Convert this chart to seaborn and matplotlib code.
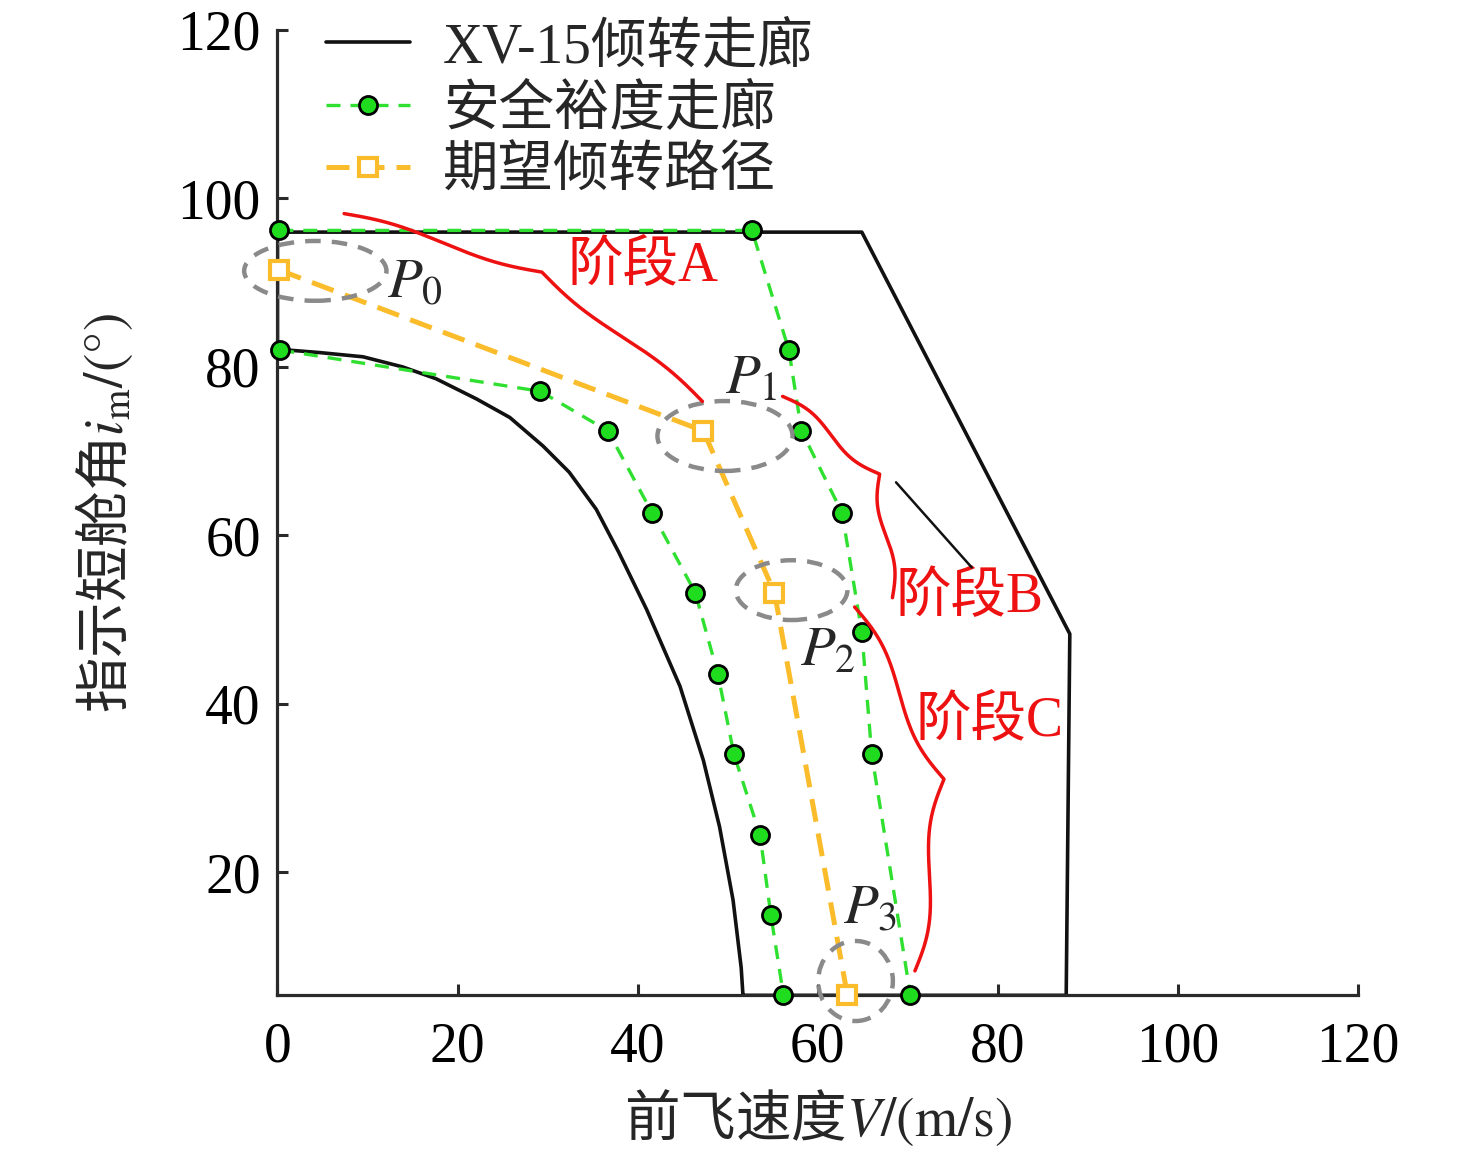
import matplotlib
matplotlib.use('Agg')
import numpy as np
import matplotlib.pyplot as plt
import seaborn as sns
from matplotlib.patches import Ellipse
from matplotlib.lines import Line2D

# ---------------------------
# Data
# ---------------------------
# XV-15 tilt corridor boundary (closed path)
xv15_v = [51.7, 51.5, 50.6, 49.1, 47.3, 44.7, 41.0, 37.9, 35.4, 32.4, 29.5, 25.8,
          22.1, 17.6, 13.9, 9.5, 4.7, 0.0, 0.0, 64.9, 88.0, 87.6, 51.7]
xv15_i = [5.4, 8.7, 16.7, 25.4, 33.3, 42.1, 51.2, 58.0, 63.1, 67.5, 70.6, 74.0,
          76.2, 78.6, 80.0, 81.2, 81.7, 82.1, 96.0, 96.0, 48.3, 5.4, 5.4]

# safety margin corridor
safe_left_v = [0.3, 29.2, 36.7, 41.6, 46.4, 48.9, 50.7, 53.6, 54.8, 56.2]
safe_left_i = [82.0, 77.1, 72.4, 62.7, 53.2, 43.6, 34.0, 24.4, 14.9, 5.4]
safe_right_v = [0.2, 52.7, 56.8, 58.2, 62.7, 64.9, 66.0, 70.3]
safe_right_i = [96.2, 96.2, 82.0, 72.4, 62.7, 48.5, 34.0, 5.4]

# desired tilt path P0..P3
path_v = [0.2, 47.3, 55.2, 63.3]
path_i = [91.5, 72.4, 53.2, 5.4]
path_names = ["0", "1", "2", "3"]

# ---------------------------
# Style
# ---------------------------
sns.set_style("ticks")
plt.rcParams['font.family'] = ['Liberation Serif', 'Noto Sans CJK SC']
plt.rcParams['mathtext.fontset'] = 'stix'
plt.rcParams['xtick.direction'] = 'in'
plt.rcParams['ytick.direction'] = 'in'

FS = 40
black = '#111111'
green_line = '#30e030'
green_face = '#1fdc1f'
orange = '#fbbc2c'
red = '#ee1111'
gray = '#8a8a8a'

fig = plt.figure(figsize=(14.76, 11.52), dpi=100)
ax = fig.add_axes([0.188, 0.136, 0.732, 0.838])

sns.lineplot(x=xv15_v, y=xv15_i, sort=False, estimator=None, ax=ax,
             color=black, linewidth=2.6, zorder=2)

safe_kw = dict(sort=False, estimator=None, ax=ax, color=green_line, linewidth=2.4,
               linestyle=(0, (4.2, 3)), marker='o', markersize=13,
               markerfacecolor=green_face, markeredgecolor='black',
               markeredgewidth=2.0, zorder=3, clip_on=False)
sns.lineplot(x=safe_left_v, y=safe_left_i, **safe_kw)
sns.lineplot(x=safe_right_v, y=safe_right_i, **safe_kw)

sns.lineplot(x=path_v, y=path_i, sort=False, estimator=None, ax=ax,
             color=orange, linewidth=3.6, linestyle=(0, (4.6, 2.4)),
             marker='s', markersize=12.5, markerfacecolor='white',
             markeredgecolor=orange, markeredgewidth=3.0, zorder=4, clip_on=False)

ax.set_xlim(0, 120)
ax.set_ylim(5.4, 120)
ax.set_xticks(np.arange(0, 121, 20))
ax.set_yticks(np.arange(20, 121, 20))
for s in ['top', 'right']:
    ax.spines[s].set_visible(False)
for s in ['left', 'bottom']:
    ax.spines[s].set_linewidth(2.3)
    ax.spines[s].set_color('#2a2a2a')
ax.tick_params(axis='both', length=8, width=2.2, color='#2a2a2a',
               labelsize=FS, labelcolor='black')
ax.tick_params(axis='x', pad=19)
ax.tick_params(axis='y', pad=12)

ax.set_xlabel("前飞速度$V\\mathrm{/(m/s)}$", fontsize=FS,
              family=['Noto Sans CJK SC'], labelpad=10)
ax.set_ylabel("指示短舱角$i_\\mathrm{m}\\mathrm{/(°)}$", fontsize=FS,
              family=['Noto Sans CJK SC'], labelpad=30)

# ---------------------------
# Ellipses around P0..P3
# ---------------------------
ell_c = [(4.2, 91.4), (49.7, 71.8), (57.1, 53.5), (64.2, 7.1)]
ell_wh = [(15.8, 7.1), (15.0, 8.3), (12.4, 7.1), (8.3, 9.5)]
for (cx, cy), (w, h) in zip(ell_c, ell_wh):
    ax.add_patch(Ellipse((cx, cy), w, h, fill=False, edgecolor=gray,
                         linewidth=3.2, linestyle=(0, (3.5, 2.5)),
                         zorder=5, clip_on=False))

# point labels
lab_xy = [(12.2, 88.3), (49.7, 76.8), (58.0, 44.6), (62.8, 14.0)]
for (lx, ly), n in zip(lab_xy, path_names):
    ax.text(lx, ly, "$P_{%s}$" % n, fontsize=FS + 1, ha='left', va='baseline', zorder=6)

# ---------------------------
# Curly braces
# ---------------------------
def brace(p0, p1, h, beta=14):
    d0 = ax.transData.transform(p0)
    d1 = ax.transData.transform(p1)
    v = d1 - d0
    L = np.hypot(*v)
    u = v / L
    n = np.array([-u[1], u[0]])
    t = np.linspace(0, 0.5, 200)
    half = 1 / (1 + np.exp(-beta * t)) + 1 / (1 + np.exp(-beta * (t - 0.5)))
    half = (half - half[0]) / (half[-1] - half[0])
    f = np.concatenate([half, half[-2::-1]])
    tt = np.linspace(0, 1, len(f))
    pts = d0[None, :] + (tt * L)[:, None] * u[None, :] + (f * h)[:, None] * n[None, :]
    dpts = ax.transData.inverted().transform(pts)
    ax.plot(dpts[:, 0], dpts[:, 1], color=red, linewidth=2.5, zorder=6, clip_on=False)

brace((7.4, 98.2), (47.2, 75.9), 40, beta=13)
brace((56.1, 76.5), (68.3, 52.6), 48, beta=15)
brace((64.1, 51.5), (70.8, 8.3), 60, beta=15)

ax.plot([68.7, 77.1], [66.3, 56.2], color=black, linewidth=1.8, zorder=6)

ax.text(40.6, 91.9, "阶段A", color=red, fontsize=FS, ha='center', va='center')
ax.text(76.9, 52.6, "阶段B", color=red, fontsize=FS, ha='center', va='center')
ax.text(79.1, 37.9, "阶段C", color=red, fontsize=FS, ha='center', va='center')

# ---------------------------
# Legend
# ---------------------------
handles = [
    Line2D([], [], color=black, linewidth=2.6),
    Line2D([], [], color=green_line, linewidth=2.4, linestyle=(0, (4.2, 3)), marker='o',
           markersize=13, markerfacecolor=green_face, markeredgecolor='black',
           markeredgewidth=2.0),
    Line2D([], [], color=orange, linewidth=3.6, linestyle=(0, (4.6, 2.4)), marker='s',
           markersize=12.5, markerfacecolor='white', markeredgecolor=orange,
           markeredgewidth=3.0),
]
labels = ["XV-15倾转走廊", "安全裕度走廊", "期望倾转路径"]
ax.legend(handles, labels, loc='upper left', bbox_to_anchor=(0.035, 1.02),
          frameon=False, fontsize=FS, handlelength=1.5, handletextpad=0.6,
          labelspacing=0.19, borderaxespad=0, borderpad=0.2)

fig.savefig("out.png", dpi=100)
plt.close(fig)
